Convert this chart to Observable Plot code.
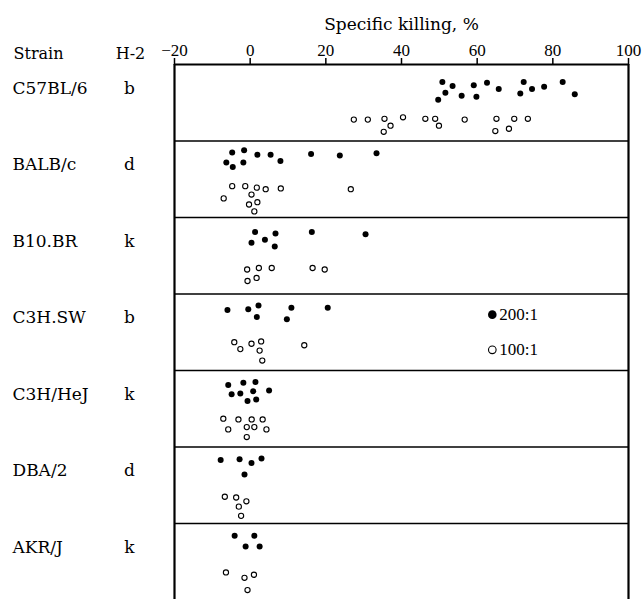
<!DOCTYPE html>
<html>
<head>
<meta charset="utf-8">
<script src="https://cdn.jsdelivr.net/npm/d3@7"></script>
<script src="https://cdn.jsdelivr.net/npm/@observablehq/plot@0.6"></script>
<style>
  html, body { margin: 0; padding: 0; background: #fff; }
  #chart svg { display: block; }
</style>
</head>
<body>
<div id="chart"></div>
<script>
// ---- data ----
const strains = ["C57BL/6", "BALB/c", "B10.BR", "C3H.SW", "C3H/HeJ", "DBA/2", "AKR/J"];
const h2 = ["b", "d", "k", "b", "k", "d", "k"];
const xTicks = [-20, 0, 20, 40, 60, 80, 100];
const ratioLabels = ["200:1", "100:1"];

// Specific killing (%) at effector:target 200:1 (filled dots), per strain
const killing200 = [
  [50.8, 51.6, 49.7, 53.5, 55.9, 59.1, 59.8, 62.6, 65.7, 72.3, 71.4, 74.5, 77.7, 82.6, 85.8],
  [-4.75, -1.6, -6.3, -1.8, -4.6, 1.9, 5.4, 8.0, 16.1, 23.7, 33.4],
  [1.3, 6.7, 0.35, 3.9, 6.5, 16.3, 30.5],
  [-6.0, -0.5, 2.2, 1.75, 10.9, 9.7, 20.5],
  [-5.8, -1.8, 1.4, -4.9, -2.6, 0.8, 5.0, -0.7, 1.6],
  [-7.8, -2.8, 0.35, 3.0, -1.5],
  [-4.1, 1.1, -1.2, 2.5]
];
// vertical scatter lane of each 200:1 dot within its strain row (0 = top, 1 = bottom)
const lane200 = [
  [0.23, 0.37, 0.46, 0.28, 0.41, 0.27, 0.42, 0.24, 0.32, 0.23, 0.38, 0.32, 0.29, 0.23, 0.39],
  [0.15, 0.12, 0.28, 0.28, 0.34, 0.18, 0.18, 0.26, 0.17, 0.19, 0.16],
  [0.19, 0.21, 0.33, 0.29, 0.38, 0.19, 0.22],
  [0.21, 0.20, 0.15, 0.30, 0.18, 0.33, 0.18],
  [0.19, 0.16, 0.15, 0.31, 0.30, 0.27, 0.26, 0.40, 0.38],
  [0.17, 0.16, 0.21, 0.15, 0.36],
  [0.16, 0.16, 0.30, 0.30]
];

// Specific killing (%) at 100:1 (open circles), per strain
const killing100 = [
  [27.4, 31.1, 35.5, 37.1, 35.3, 40.4, 46.3, 48.9, 49.9, 56.7, 65.1, 64.8, 68.4, 69.8, 73.4],
  [-4.75, -1.3, 1.75, 4.1, 8.1, 26.6, 0.35, -7.0, 1.9, -0.3, 1.1],
  [-0.8, 2.3, 5.7, 16.5, 19.7, -0.7, 1.7],
  [-4.2, -2.6, 0.35, 2.9, 2.5, 3.2, 14.3],
  [-7.1, -3.1, 0.4, 3.3, -5.8, -0.9, 1.1, 4.3, -0.9],
  [-6.7, -3.7, -1.0, -3.0, -2.4],
  [-6.4, -1.5, 1.0, -0.7]
];
const lane100 = [
  [0.72, 0.72, 0.71, 0.80, 0.88, 0.69, 0.71, 0.71, 0.80, 0.72, 0.71, 0.87, 0.84, 0.71, 0.71],
  [0.59, 0.59, 0.61, 0.63, 0.62, 0.63, 0.70, 0.75, 0.80, 0.83, 0.92],
  [0.68, 0.66, 0.66, 0.66, 0.68, 0.83, 0.79],
  [0.63, 0.72, 0.65, 0.62, 0.74, 0.87, 0.67],
  [0.63, 0.64, 0.64, 0.64, 0.77, 0.74, 0.74, 0.77, 0.87],
  [0.65, 0.66, 0.71, 0.78, 0.90],
  [0.64, 0.71, 0.67, 0.87]
];

// ---- build tables ----
const dots200 = killing200.flatMap((vals, i) => vals.map((v, j) => ({strain: strains[i], x: v, y: i + lane200[i][j]})));
const dots100 = killing100.flatMap((vals, i) => vals.map((v, j) => ({strain: strains[i], x: v, y: i + lane100[i][j]})));
const rows = strains.map((s, i) => ({strain: s, h2: h2[i], row: i}));

const fmt = d => d < 0 ? "\u2212" + Math.abs(d) : String(d);
const serifWide = "'DejaVu Serif', 'Liberation Serif', serif";
const serifTimes = "'Liberation Serif', 'DejaVu Serif', serif";

const chart = Plot.plot({
  width: 642,
  height: 599,
  marginLeft: 174,
  marginRight: 14,
  marginTop: 64,
  marginBottom: 0,
  x: {domain: [-20, 100]},
  y: {domain: [0, strains.length], range: [64, 599.5], axis: null},
  style: {fontFamily: serifWide, fontSize: "16px", color: "black", background: "white"},
  marks: [
    Plot.axisX(xTicks, {anchor: "top", tickSize: 7, tickPadding: 2, strokeWidth: 1.5, label: null, tickFormat: fmt, fontSize: 17, fontFamily: serifTimes}),
    Plot.ruleY([0], {stroke: "black", strokeWidth: 2}),
    Plot.ruleY(d3.range(1, strains.length), {stroke: "black", strokeWidth: 1.6}),
    Plot.ruleX([-20, 100], {stroke: "black", strokeWidth: 2.2}),
    Plot.dot(dots200, {x: "x", y: "y", r: 3, fill: "black", stroke: "none"}),
    Plot.dot(dots100, {x: "x", y: "y", r: 2.6, fill: "white", stroke: "black", strokeWidth: 1.1}),
    // row labels
    Plot.text(rows, {y: "row", text: "strain", frameAnchor: "left", dx: -162, dy: 24, textAnchor: "start", fontSize: 17}),
    Plot.text(rows, {y: "row", text: "h2", frameAnchor: "left", dx: -45, dy: 24, textAnchor: "middle", fontSize: 17}),
    // column headers
    Plot.text(["Strain"], {frameAnchor: "top-left", dx: -161, dy: -17, textAnchor: "start", fontSize: 16}),
    Plot.text(["H-2"], {frameAnchor: "top-left", dx: -44, dy: -17, textAnchor: "middle", fontSize: 16}),
    // axis title
    Plot.text(["Specific killing, %"], {frameAnchor: "top", dy: -47, fontSize: 17}),
    // legend
    Plot.dot([ratioLabels[0]], {x: 64, y: 3.27, r: 4.3, fill: "black"}),
    Plot.text([ratioLabels[0]], {x: 64, y: 3.27, dx: 7, textAnchor: "start", fontSize: 17, fontFamily: serifTimes}),
    Plot.dot([ratioLabels[1]], {x: 64, y: 3.73, r: 3.8, fill: "white", stroke: "black", strokeWidth: 1.1}),
    Plot.text([ratioLabels[1]], {x: 64, y: 3.73, dx: 7, textAnchor: "start", fontSize: 17, fontFamily: serifTimes})
  ]
});
document.getElementById("chart").appendChild(chart);
</script>
</body>
</html>
